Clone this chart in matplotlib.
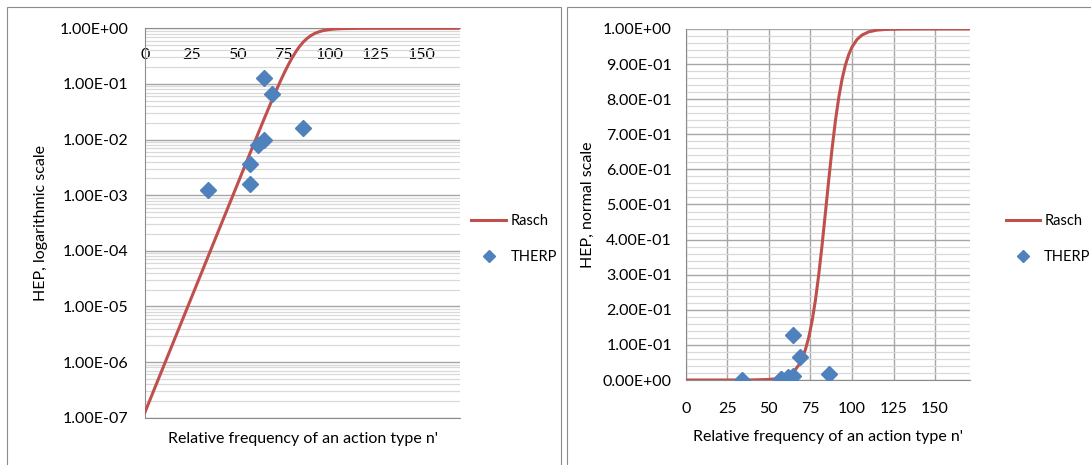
import matplotlib
matplotlib.use('Agg')
import matplotlib.pyplot as plt
from matplotlib.patches import Rectangle
from matplotlib.ticker import FuncFormatter, LogLocator, MultipleLocator, NullFormatter

plt.rcParams['font.family'] = ['Lato', 'DejaVu Sans']

# Rasch curve, values
rasch_n = [0, 10, 20, 30, 40, 50, 55, 60, 62, 64, 66, 68, 70, 72, 74, 76, 78,
           80, 82, 84, 86, 88, 90, 92, 94, 96, 98, 100, 103, 106, 110, 115,
           120, 130, 140, 150, 160, 170]
rasch_hep = [1.26e-7, 8.27e-7, 5.42e-6, 3.55e-5, 2.33e-4, 1.52e-3, 3.89e-3,
             0.0099, 0.0143, 0.0208, 0.0299, 0.0430, 0.0615, 0.0871, 0.1219,
             0.1683, 0.2276, 0.3003, 0.3846, 0.4765, 0.5700, 0.6588, 0.7377,
             0.8038, 0.8564, 0.8968, 0.9268, 0.9485, 0.9701, 0.9827, 0.9918,
             0.99678, 0.99874, 0.99981, 0.99997, 1.0, 1.0, 1.0]

# THERP points
therp_n = [34, 57, 57, 61.5, 64.5, 64.5, 68.7, 86]
therp_hep = [1.25e-3, 3.7e-3, 1.6e-3, 8.0e-3, 1.0e-2, 0.128, 0.065, 0.016]

x_ticks = [0, 25, 50, 75, 100, 125, 150]
log_ticks = [1e-7, 1e-6, 1e-5, 1e-4, 1e-3, 1e-2, 1e-1, 1.0]
lin_ticks = [0.0, 0.1, 0.2, 0.3, 0.4, 0.5, 0.6, 0.7, 0.8, 0.9, 1.0]

RED = '#C0504D'
BLUE = '#4F81BD'
MAJ = '#a6a6a6'
MINOR = '#d9d9d9'
AXC = '#8c8c8c'
FS = 11.5
LFS = 10.5
W, H = 1091, 465

fig = plt.figure(figsize=(W / 100, H / 100), dpi=100)

# panel borders
fig.patches.append(Rectangle((7 / W, -0.1), (561 - 7) / W, 1.1 - 7 / H,
                             transform=fig.transFigure, fill=False,
                             edgecolor=AXC, lw=0.8))
fig.patches.append(Rectangle((567 / W, -0.1), (1100 - 567) / W, 1.1 - 7 / H,
                             transform=fig.transFigure, fill=False,
                             edgecolor=AXC, lw=0.8))

sci = FuncFormatter(lambda v, p: f"{v:.2E}")

# ---------------- left: log scale ----------------
ax1 = fig.add_axes([145 / W, 1 - 417.7 / H, 315 / W, 389.4 / H])
ax1.plot(rasch_n, rasch_hep, color=RED, lw=2.2, label='Rasch', zorder=3)
ax1.plot(therp_n, therp_hep, ls='none', marker='D', ms=8.5, color=BLUE,
         label='THERP', zorder=4)
ax1.set_yscale('log')
ax1.set_ylim(1e-7, 1)
ax1.set_xlim(0, 171)
ax1.set_yticks(log_ticks)
ax1.yaxis.set_minor_locator(LogLocator(base=10, subs=range(2, 10), numticks=20))
ax1.yaxis.set_minor_formatter(NullFormatter())
ax1.yaxis.set_major_formatter(sci)
ax1.set_xticks(x_ticks)
ax1.grid(which='major', axis='y', color=MAJ, lw=1.0)
ax1.grid(which='minor', axis='y', color=MINOR, lw=0.9)
ax1.set_axisbelow(True)
ax1.tick_params(axis='x', which='both', length=0, bottom=False, labelbottom=False,
                top=True, labeltop=True, pad=-24, labelsize=FS)
ax1.tick_params(axis='y', which='both', length=0, pad=12, labelsize=FS)
for s in ['left', 'bottom', 'top']:
    ax1.spines[s].set_color(AXC)
ax1.spines['right'].set_visible(False)
ax1.set_ylabel('HEP, logarithmic scale', fontsize=FS, labelpad=8)
ax1.set_xlabel("Relative frequency of an action type n'", fontsize=FS, labelpad=10)
ax1.legend(loc='center left', bbox_to_anchor=(464 / W, 1 - 239 / H),
           bbox_transform=fig.transFigure, frameon=False, fontsize=LFS,
           borderpad=0, handlelength=2.4, handletextpad=0.3, labelspacing=1.5,
           markerscale=0.75)

# ---------------- right: linear scale ----------------
ax2 = fig.add_axes([685.8 / W, 1 - 380 / H, 284.2 / W, 351 / H])
ax2.plot(rasch_n, rasch_hep, color=RED, lw=2.2, label='Rasch', zorder=3)
ax2.plot(therp_n, therp_hep, ls='none', marker='D', ms=8.5, color=BLUE,
         label='THERP', zorder=4)
ax2.set_ylim(0, 1)
ax2.set_xlim(0, 171)
ax2.set_yticks(lin_ticks)
ax2.yaxis.set_minor_locator(MultipleLocator(0.02))
ax2.yaxis.set_major_formatter(sci)
ax2.set_xticks(x_ticks)
ax2.grid(which='major', axis='both', color=MAJ, lw=1.0)
ax2.grid(which='minor', axis='y', color=MINOR, lw=0.9)
ax2.set_axisbelow(True)
ax2.tick_params(axis='both', which='both', length=0, labelsize=FS)
ax2.tick_params(axis='x', pad=16)
ax2.tick_params(axis='y', pad=10)
for s in ['left', 'bottom']:
    ax2.spines[s].set_color(AXC)
ax2.spines['top'].set_visible(False)
ax2.spines['right'].set_visible(False)
ax2.set_ylabel('HEP, normal scale', fontsize=FS, labelpad=6)
ax2.set_xlabel("Relative frequency of an action type n'", fontsize=FS, labelpad=10)
ax2.legend(loc='center left', bbox_to_anchor=(999 / W, 1 - 239 / H),
           bbox_transform=fig.transFigure, frameon=False, fontsize=LFS,
           borderpad=0, handlelength=2.3, handletextpad=0.3, labelspacing=1.5,
           markerscale=0.75)

fig.savefig('out.png', dpi=100)
